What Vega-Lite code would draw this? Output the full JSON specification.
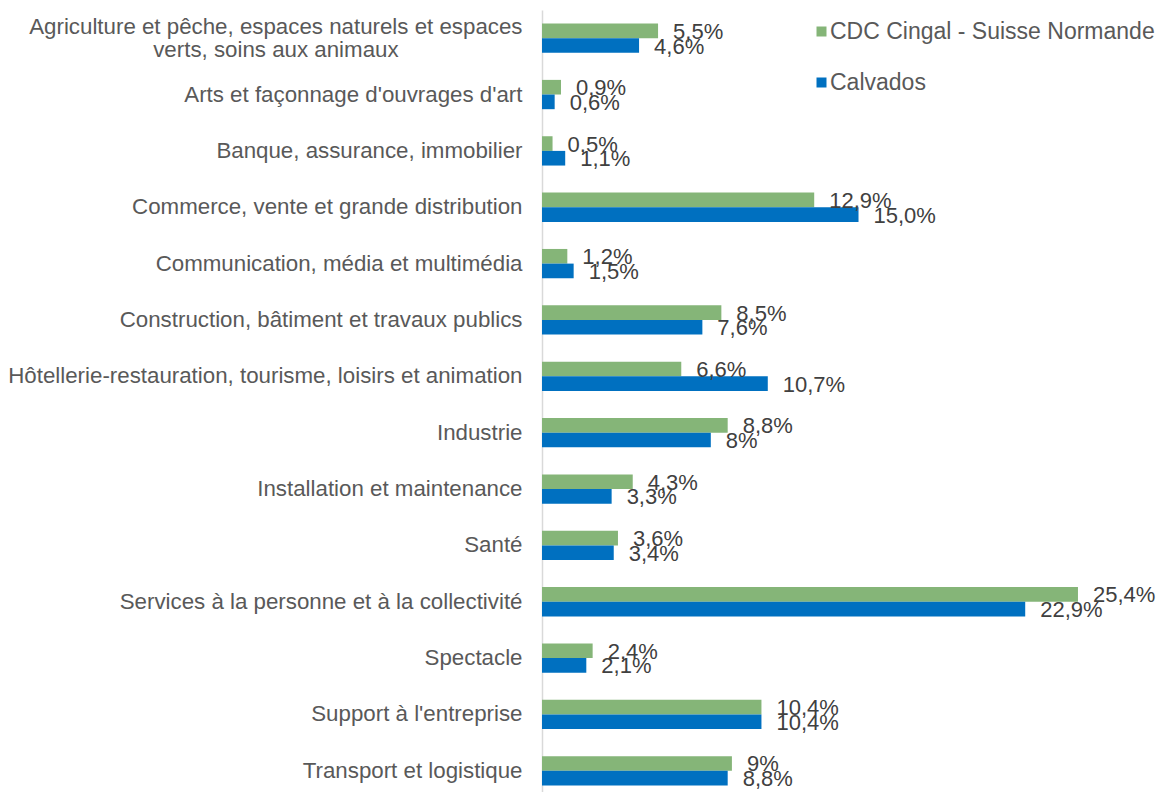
{
  "$schema": "https://vega.github.io/schema/vega-lite/v6.json",
  "autosize": {"type": "none"},
  "padding": {"left": 542, "top": 10, "right": 0, "bottom": 0},
  "width": 617,
  "height": 789,
  "background": "white",
  "config": {
    "view": {"stroke": null},
    "font": "Liberation Sans"
  },
  "data": {
    "values": [
      {"category": "Agriculture et pêche, espaces naturels et espaces verts, soins aux animaux", "series": "CDC Cingal - Suisse Normande", "value": 5.5, "label": "5,5%"},
      {"category": "Agriculture et pêche, espaces naturels et espaces verts, soins aux animaux", "series": "Calvados", "value": 4.6, "label": "4,6%"},
      {"category": "Arts et façonnage d'ouvrages d'art", "series": "CDC Cingal - Suisse Normande", "value": 0.9, "label": "0,9%"},
      {"category": "Arts et façonnage d'ouvrages d'art", "series": "Calvados", "value": 0.6, "label": "0,6%"},
      {"category": "Banque, assurance, immobilier", "series": "CDC Cingal - Suisse Normande", "value": 0.5, "label": "0,5%"},
      {"category": "Banque, assurance, immobilier", "series": "Calvados", "value": 1.1, "label": "1,1%"},
      {"category": "Commerce, vente et grande distribution", "series": "CDC Cingal - Suisse Normande", "value": 12.9, "label": "12,9%"},
      {"category": "Commerce, vente et grande distribution", "series": "Calvados", "value": 15.0, "label": "15,0%"},
      {"category": "Communication, média et multimédia", "series": "CDC Cingal - Suisse Normande", "value": 1.2, "label": "1,2%"},
      {"category": "Communication, média et multimédia", "series": "Calvados", "value": 1.5, "label": "1,5%"},
      {"category": "Construction, bâtiment et travaux publics", "series": "CDC Cingal - Suisse Normande", "value": 8.5, "label": "8,5%"},
      {"category": "Construction, bâtiment et travaux publics", "series": "Calvados", "value": 7.6, "label": "7,6%"},
      {"category": "Hôtellerie-restauration, tourisme, loisirs et animation", "series": "CDC Cingal - Suisse Normande", "value": 6.6, "label": "6,6%"},
      {"category": "Hôtellerie-restauration, tourisme, loisirs et animation", "series": "Calvados", "value": 10.7, "label": "10,7%"},
      {"category": "Industrie", "series": "CDC Cingal - Suisse Normande", "value": 8.8, "label": "8,8%"},
      {"category": "Industrie", "series": "Calvados", "value": 8.0, "label": "8%"},
      {"category": "Installation et maintenance", "series": "CDC Cingal - Suisse Normande", "value": 4.3, "label": "4,3%"},
      {"category": "Installation et maintenance", "series": "Calvados", "value": 3.3, "label": "3,3%"},
      {"category": "Santé", "series": "CDC Cingal - Suisse Normande", "value": 3.6, "label": "3,6%"},
      {"category": "Santé", "series": "Calvados", "value": 3.4, "label": "3,4%"},
      {"category": "Services à la personne et à la collectivité", "series": "CDC Cingal - Suisse Normande", "value": 25.4, "label": "25,4%"},
      {"category": "Services à la personne et à la collectivité", "series": "Calvados", "value": 22.9, "label": "22,9%"},
      {"category": "Spectacle", "series": "CDC Cingal - Suisse Normande", "value": 2.4, "label": "2,4%"},
      {"category": "Spectacle", "series": "Calvados", "value": 2.1, "label": "2,1%"},
      {"category": "Support à l'entreprise", "series": "CDC Cingal - Suisse Normande", "value": 10.4, "label": "10,4%"},
      {"category": "Support à l'entreprise", "series": "Calvados", "value": 10.4, "label": "10,4%"},
      {"category": "Transport et logistique", "series": "CDC Cingal - Suisse Normande", "value": 9.0, "label": "9%"},
      {"category": "Transport et logistique", "series": "Calvados", "value": 8.8, "label": "8,8%"}
    ]
  },
  "encoding": {
    "y": {
      "field": "category",
      "type": "nominal",
      "sort": null,
      "scale": {"paddingInner": 0.48, "paddingOuter": 0.24},
      "axis": {
        "title": null,
        "ticks": false,
        "domainColor": "#D9D9D9",
        "domainWidth": 1.5,
        "labelPadding": 20,
        "labelFontSize": 22.3,
        "labelColor": "#595959",
        "labelLimit": 0,
        "labelLineHeight": 23,
        "labelExpr": "indexof(datum.value, 'Agriculture') == 0 ? ['Agriculture et pêche, espaces naturels et espaces', 'verts, soins aux animaux\u00a0\u00a0\u00a0\u00a0\u00a0\u00a0\u00a0\u00a0\u00a0\u00a0\u00a0\u00a0\u00a0\u00a0\u00a0\u00a0\u00a0\u00a0\u00a0\u00a0\u200d'] : datum.value",
        "labelOffset": {"condition": {"test": "indexof(datum.value, 'Agriculture') == 0", "value": -11}, "value": 0}
      }
    },
    "yOffset": {
      "field": "series",
      "type": "nominal",
      "scale": {"domain": ["CDC Cingal - Suisse Normande", "Calvados"], "paddingInner": 0}
    },
    "x": {
      "field": "value",
      "type": "quantitative",
      "scale": {"domain": [0, 29.24], "nice": false, "zero": true},
      "axis": null
    }
  },
  "layer": [
    {
      "mark": {"type": "bar"},
      "encoding": {
        "color": {
          "field": "series",
          "type": "nominal",
          "scale": {"domain": ["CDC Cingal - Suisse Normande", "Calvados"], "range": ["#85B578", "#0070C0"]},
          "legend": {
            "title": null,
            "orient": "none",
            "legendX": 268,
            "legendY": 10,
            "symbolType": "square",
            "symbolSize": 100,
            "symbolStrokeWidth": 0,
            "labelFontSize": 23,
            "labelColor": "#595959",
            "labelOffset": -3,
            "labelLimit": 0,
            "rowPadding": 27,
            "padding": 0
          }
        }
      }
    },
    {
      "mark": {"type": "text", "align": "left", "baseline": "middle", "dx": 15, "dy": 1, "fontSize": 22, "color": "#404040"},
      "encoding": {
        "text": {"field": "label", "type": "nominal"}
      }
    }
  ]
}
